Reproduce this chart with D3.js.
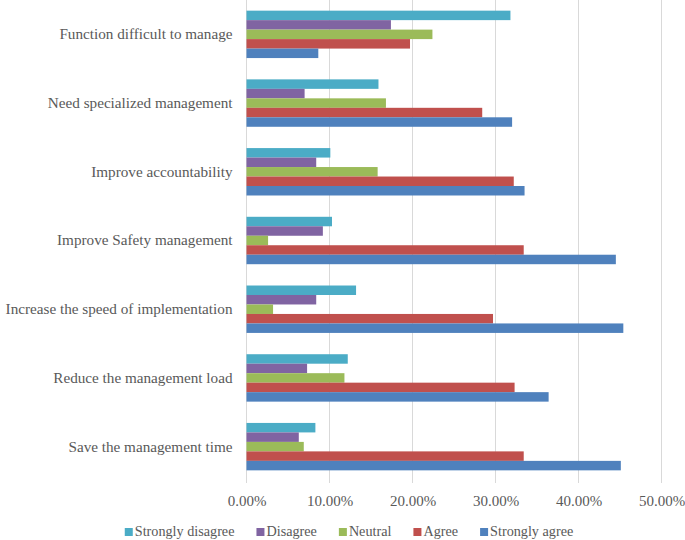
<!DOCTYPE html>
<html><head><meta charset="utf-8">
<script src="https://cdn.jsdelivr.net/npm/d3@7"></script>
<style>body{margin:0;background:#fff}svg{display:block}</style>
</head><body>
<svg id="c" width="685" height="540"></svg>
<script>
const categories = ["Function difficult to manage","Need specialized management","Improve accountability","Improve Safety management","Increase the speed of implementation","Reduce the management load","Save the management time"];
const seriesNames = ["Strongly disagree","Disagree","Neutral","Agree","Strongly agree"];
const seriesColors = ["#4BACC6","#8064A2","#9BBB59","#C0504D","#4F81BD"];
const stronglyDisagree = [0.318,0.159,0.101,0.103,0.132,0.122,0.083];
const disagree         = [0.174,0.070,0.084,0.092,0.084,0.073,0.063];
const neutral          = [0.224,0.168,0.158,0.026,0.032,0.118,0.069];
const agree            = [0.197,0.284,0.322,0.334,0.297,0.323,0.334];
const stronglyAgree    = [0.0865,0.320,0.335,0.445,0.454,0.364,0.451];
const tickValues = [0,0.1,0.2,0.3,0.4,0.5];

const seriesValues = [stronglyDisagree,disagree,neutral,agree,stronglyAgree];
const svg = d3.select("#c");
const margin = {left:246.5, right:23.5, top:0, bottom:59};
const W = 685, H = 540;
const font = "'Liberation Serif', serif";
const x = d3.scaleLinear().domain([0,0.5]).range([margin.left, W-margin.right]);
const y0 = d3.scaleBand().domain(categories).range([margin.top, H-margin.bottom]).paddingInner(0.31).paddingOuter(0.155);
const y1 = d3.scaleBand().domain(seriesNames).range([0, y0.bandwidth()]);

// gridlines
svg.append("g").selectAll("line").data(tickValues).join("line")
  .attr("x1", d=>x(d)).attr("x2", d=>x(d))
  .attr("y1", margin.top).attr("y2", H-margin.bottom+2)
  .attr("stroke", "#D9D9D9").attr("stroke-width", 1);

// bars
const g = svg.append("g");
categories.forEach((c,ci)=>{
  seriesNames.forEach((s,si)=>{
    g.append("rect")
      .attr("x", x(0))
      .attr("y", y0(c)+y1(s))
      .attr("width", x(seriesValues[si][ci]) - x(0))
      .attr("height", y1.bandwidth())
      .attr("fill", seriesColors[si]);
  });
});

// x axis labels
const xAxis = d3.axisBottom(x).tickValues(tickValues).tickFormat(d=>d3.format(".2f")(d*100)+"%").tickSize(0).tickPadding(0);
const xg = svg.append("g").attr("transform", `translate(0,${H-margin.bottom+14})`).call(xAxis);
xg.select(".domain").remove();
xg.selectAll("text").attr("font-family", font).attr("font-size", 15).attr("fill", "#595959").attr("dy","0.71em");

// y axis labels
const yAxis = d3.axisLeft(y0).tickSize(0).tickPadding(14);
const yg = svg.append("g").attr("transform", `translate(${x(0)},0)`).call(yAxis);
yg.select(".domain").remove();
yg.selectAll("text").attr("font-family", font).attr("font-size", 15.2).attr("fill", "#595959");

// legend
const lg = svg.append("g");
const items = lg.selectAll("g").data(seriesNames).join("g");
items.append("rect").attr("width", 8).attr("height", 8).attr("y", -8).attr("fill", (d,i)=>seriesColors[i]);
items.append("text").text(d=>d).attr("x", 10).attr("y", 0).attr("font-family", font).attr("font-size", 14.2).attr("fill", "#595959");
const gap = 22;
let cx = 0; const pos = [];
items.each(function(d){ const w = this.querySelector("text").getComputedTextLength()+10; pos.push(cx); cx += w + gap; });
const total = cx - gap;
const startX = 349 - total/2;
items.attr("transform", (d,i)=>`translate(${startX+pos[i]},536)`);
</script>
</body></html>
